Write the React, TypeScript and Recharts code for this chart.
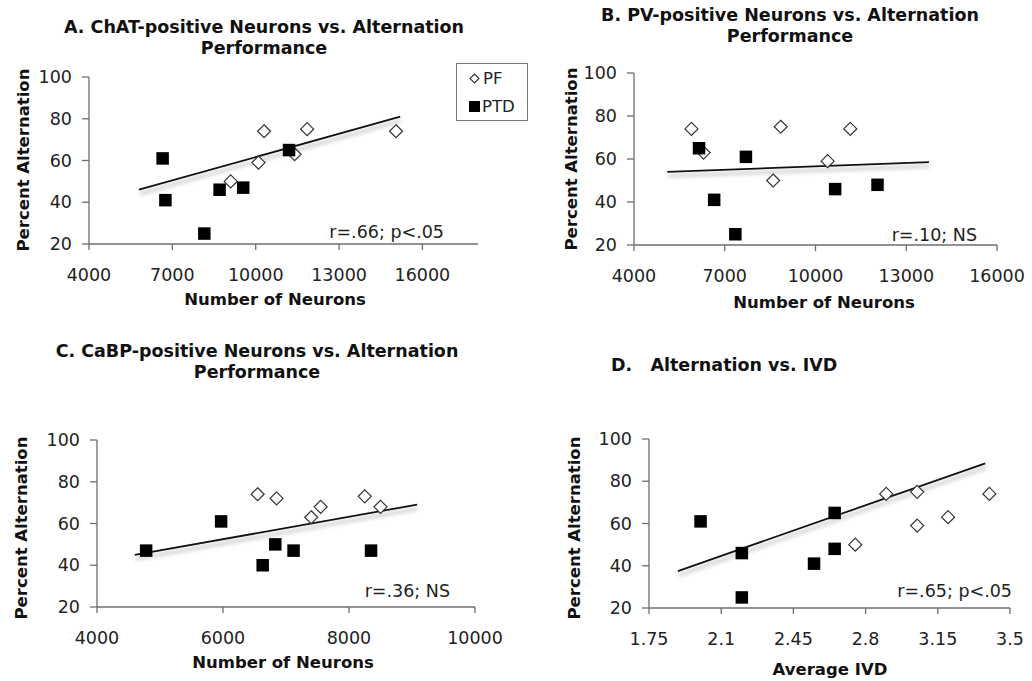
import { ScatterChart, Scatter, XAxis, YAxis, ReferenceLine } from "recharts";

const FONT = "'DejaVu Sans', Verdana, sans-serif";
const AXIS_COLOR = "#6e6e6e";
const TEXT_COLOR = "#222";

// A. ChAT-positive neurons
const chatPfX = [10300, 11850, 15050, 11400, 10100, 9100];
const chatPfY = [74, 75, 74, 63, 59, 50];
const chatPtdX = [6650, 6750, 8150, 8700, 9550, 11200];
const chatPtdY = [61, 41, 25, 46, 47, 65];
const chatTrendX = [5800, 15200];
const chatTrendY = [46, 81];

// B. PV-positive neurons
const pvPfX = [5900, 6300, 8850, 8600, 10400, 11150];
const pvPfY = [74, 63, 75, 50, 59, 74];
const pvPtdX = [6150, 6650, 7350, 7700, 10650, 12050];
const pvPtdY = [65, 41, 25, 61, 46, 48];
const pvTrendX = [5100, 13750];
const pvTrendY = [54, 58.5];

// C. CaBP-positive neurons
const cabpPfX = [6550, 6850, 7400, 7550, 8250, 8500];
const cabpPfY = [74, 72, 63, 68, 73, 68];
const cabpPtdX = [4780, 5970, 6630, 6830, 7120, 8350];
const cabpPtdY = [47, 61, 40, 50, 47, 47];
const cabpTrendX = [4600, 9080];
const cabpTrendY = [45, 69];

// D. Alternation vs IVD
const ivdPfX = [2.75, 2.9, 3.05, 3.05, 3.2, 3.4];
const ivdPfY = [50, 74, 75, 59, 63, 74];
const ivdPtdX = [2.0, 2.2, 2.2, 2.55, 2.65, 2.65];
const ivdPtdY = [61, 46, 25, 41, 65, 48];
const ivdTrendX = [1.89, 3.38];
const ivdTrendY = [37.5, 88.5];

const yTicks = [20, 40, 60, 80, 100];
const neuronTicksWide = [4000, 7000, 10000, 13000, 16000];
const neuronTicksNarrow = [4000, 6000, 8000, 10000];
const ivdTicks = [1.75, 2.1, 2.45, 2.8, 3.15, 3.5];

const zip = (xs: number[], ys: number[]) => xs.map((x, i) => ({ x, y: ys[i] }));

const Diamond = (props: any) => {
  const { cx, cy } = props;
  const r = 6.5;
  return (
    <path
      d={`M${cx},${cy - r} L${cx + r},${cy} L${cx},${cy + r} L${cx - r},${cy} Z`}
      fill="#fff"
      stroke="#333"
      strokeWidth={1.2}
    />
  );
};

const Square = (props: any) => {
  const { cx, cy } = props;
  const s = 12.5;
  return <rect x={cx - s / 2} y={cy - s / 2} width={s} height={s} fill="#000" />;
};

interface PanelProps {
  plot: { x: number; y: number; w: number; h: number };
  xDomain: [number, number];
  xTicks: number[];
  pf: { x: number; y: number }[];
  ptd: { x: number; y: number }[];
  trend: { x: number; y: number }[];
}

const Y_W = 70;
const TOP = 15;
const RIGHT = 40;
const X_H = 50;

function Panel({ plot, xDomain, xTicks, pf, ptd, trend }: PanelProps) {
  const width = plot.w + Y_W + RIGHT;
  const height = plot.h + TOP + X_H;
  const tick = { fill: TEXT_COLOR, fontSize: 17.5, fontFamily: FONT };
  return (
    <div style={{ position: "absolute", left: plot.x - Y_W, top: plot.y - TOP }}>
      <ScatterChart
        width={width}
        height={height}
        margin={{ top: TOP, right: RIGHT, bottom: 0, left: 0 }}
        style={{ overflow: "visible" }}
      >
        <XAxis
          type="number"
          dataKey="x"
          domain={xDomain}
          ticks={xTicks}
          allowDataOverflow
          height={X_H}
          tick={tick}
          tickSize={6}
          tickMargin={19}
          axisLine={{ stroke: AXIS_COLOR, strokeWidth: 1.3 }}
          tickLine={{ stroke: AXIS_COLOR, strokeWidth: 1.3 }}
          interval={0}
        />
        <YAxis
          type="number"
          dataKey="y"
          domain={[20, 100]}
          ticks={yTicks}
          allowDataOverflow
          width={Y_W}
          tick={tick}
          tickSize={7}
          tickMargin={10}
          axisLine={{ stroke: AXIS_COLOR, strokeWidth: 1.3 }}
          tickLine={{ stroke: AXIS_COLOR, strokeWidth: 1.3 }}
          interval={0}
        />
        <ReferenceLine
          className="trend-line"
          segment={trend}
          stroke="#111"
          strokeWidth={1.8}
          ifOverflow="visible"
        />
        <Scatter name="PF" data={pf} shape={Diamond} isAnimationActive={false} />
        <Scatter name="PTD" data={ptd} shape={Square} isAnimationActive={false} />
      </ScatterChart>
    </div>
  );
}

const boldText: React.CSSProperties = {
  position: "absolute",
  fontFamily: FONT,
  fontWeight: "bold",
  color: "#111",
  whiteSpace: "nowrap",
};

function Title({ cx, top, lines }: { cx: number; top: number; lines: string[] }) {
  return (
    <div
      style={{
        ...boldText,
        left: cx - 250,
        width: 500,
        top,
        fontSize: 17.5,
        lineHeight: "21px",
        textAlign: "center",
      }}
    >
      {lines.map((l) => (
        <div key={l}>{l}</div>
      ))}
    </div>
  );
}

function YLabel({ cx, cy }: { cx: number; cy: number }) {
  return (
    <div
      style={{
        ...boldText,
        left: cx - 100,
        top: cy - 10,
        width: 200,
        height: 20,
        lineHeight: "20px",
        fontSize: 16.5,
        textAlign: "center",
        transform: "rotate(-90deg)",
      }}
    >
      Percent Alternation
    </div>
  );
}

function XLabel({ cx, cy, text }: { cx: number; cy: number; text: string }) {
  return (
    <div
      style={{
        ...boldText,
        left: cx - 150,
        top: cy - 10,
        width: 300,
        lineHeight: "20px",
        fontSize: 16.5,
        textAlign: "center",
      }}
    >
      {text}
    </div>
  );
}

function Note({ right, cy, text }: { right: number; cy: number; text: string }) {
  return (
    <div
      style={{
        position: "absolute",
        left: right - 200,
        width: 200,
        top: cy - 11,
        lineHeight: "22px",
        fontSize: 17.5,
        fontFamily: FONT,
        color: TEXT_COLOR,
        textAlign: "right",
        whiteSpace: "nowrap",
      }}
    >
      {text}
    </div>
  );
}

function LegendBox() {
  return (
    <div
      style={{
        position: "absolute",
        left: 456,
        top: 63,
        width: 70,
        height: 56,
        border: "1.5px solid #777",
        background: "#fff",
        fontFamily: FONT,
        fontSize: 16.5,
        color: TEXT_COLOR,
      }}
    >
      <div style={{ position: "absolute", left: 12, top: 5, display: "flex", alignItems: "center", gap: 3 }}>
        <svg width={11} height={11}>
          <path d="M5.5,1 L10,5.5 L5.5,10 L1,5.5 Z" fill="#fff" stroke="#333" strokeWidth={1.1} />
        </svg>
        <span>PF</span>
      </div>
      <div style={{ position: "absolute", left: 12, top: 33, display: "flex", alignItems: "center", gap: 2 }}>
        <svg width={11} height={11}>
          <rect x={0} y={0} width={11} height={11} fill="#000" />
        </svg>
        <span>PTD</span>
      </div>
    </div>
  );
}

export default function App() {
  return (
    <div
      style={{
        position: "absolute",
        left: 0,
        top: 0,
        width: 1032,
        height: 681,
        background: "#fff",
        overflow: "hidden",
      }}
    >
      {/* soft drop shadow under the trend lines, like the original */}
      <style>{`.trend-line line { filter: drop-shadow(1px 4px 2px rgba(0,0,0,0.35)); }`}</style>

      {/* A */}
      <Panel
        plot={{ x: 89, y: 77, w: 389, h: 167 }}
        xDomain={[4000, 18000]}
        xTicks={neuronTicksWide}
        pf={zip(chatPfX, chatPfY)}
        ptd={zip(chatPtdX, chatPtdY)}
        trend={zip(chatTrendX, chatTrendY)}
      />
      <Title cx={264} top={17} lines={["A. ChAT-positive Neurons vs. Alternation", "Performance"]} />
      <YLabel cx={24} cy={160} />
      <XLabel cx={275} cy={300} text="Number of Neurons" />
      <Note right={444} cy={232} text="r=.66; p<.05" />
      <LegendBox />

      {/* B */}
      <Panel
        plot={{ x: 634, y: 73, w: 363, h: 172 }}
        xDomain={[4000, 16000]}
        xTicks={neuronTicksWide}
        pf={zip(pvPfX, pvPfY)}
        ptd={zip(pvPtdX, pvPtdY)}
        trend={zip(pvTrendX, pvTrendY)}
      />
      <Title cx={790} top={5} lines={["B. PV-positive Neurons vs. Alternation", "Performance"]} />
      <YLabel cx={572} cy={159} />
      <XLabel cx={824} cy={303} text="Number of Neurons" />
      <Note right={977} cy={235} text="r=.10; NS" />

      {/* C */}
      <Panel
        plot={{ x: 97, y: 440, w: 378, h: 167 }}
        xDomain={[4000, 10000]}
        xTicks={neuronTicksNarrow}
        pf={zip(cabpPfX, cabpPfY)}
        ptd={zip(cabpPtdX, cabpPtdY)}
        trend={zip(cabpTrendX, cabpTrendY)}
      />
      <Title cx={257} top={341} lines={["C. CaBP-positive Neurons vs. Alternation", "Performance"]} />
      <YLabel cx={22} cy={528} />
      <XLabel cx={283} cy={663} text="Number of Neurons" />
      <Note right={450} cy={591} text="r=.36; NS" />

      {/* D */}
      <Panel
        plot={{ x: 649, y: 439, w: 361, h: 169 }}
        xDomain={[1.75, 3.5]}
        xTicks={ivdTicks}
        pf={zip(ivdPfX, ivdPfY)}
        ptd={zip(ivdPtdX, ivdPtdY)}
        trend={zip(ivdTrendX, ivdTrendY)}
      />
      <div style={{ ...boldText, left: 611, top: 354, fontSize: 17.5, lineHeight: "22px", whiteSpace: "pre" }}>
        {"D.   Alternation vs. IVD"}
      </div>
      <YLabel cx={575} cy={528} />
      <XLabel cx={830} cy={670} text="Average IVD" />
      <Note right={1012} cy={591} text="r=.65; p<.05" />
    </div>
  );
}
